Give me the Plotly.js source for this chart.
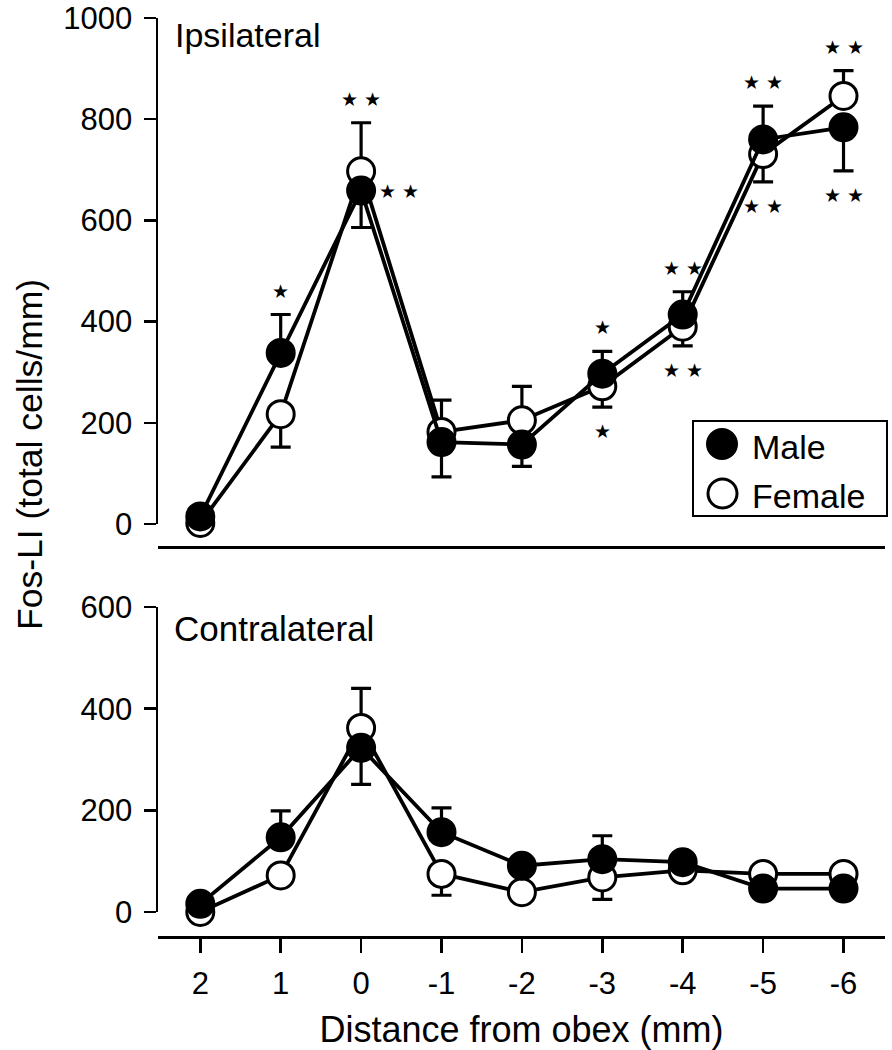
<!DOCTYPE html>
<html><head><meta charset="utf-8">
<script src="https://cdn.plot.ly/plotly-3.0.1.min.js"></script>
<style>html,body{margin:0;padding:0;background:#fff}</style>
</head><body><div id="chart" style="width:892px;height:1050px"></div>
<script>
// ---- data ----
const distance = [2, 1, 0, -1, -2, -3, -4, -5, -6];
const tickLabels = ['2', '1', '0', '-1', '-2', '-3', '-4', '-5', '-6'];

const ipsiMale          = [15, 338, 659, 162, 157, 297, 414, 760, 784];
const ipsiMaleErrUp     = [0, 76, 0, 0, 0, 44, 45, 66, 0];
const ipsiMaleErrDown   = [0, 0, 73, 69, 43, 0, 0, 0, 86];
const ipsiFemale        = [2, 217, 697, 182, 205, 272, 390, 731, 846];
const ipsiFemaleErrUp   = [0, 0, 96, 63, 67, 0, 0, 0, 50];
const ipsiFemaleErrDown = [0, 65, 0, 0, 0, 41, 38, 55, 0];

const contraMale          = [16, 147, 323, 157, 91, 104, 98, 46, 46];
const contraMaleErrUp     = [0, 52, 0, 48, 0, 46, 0, 0, 0];
const contraMaleErrDown   = [0, 0, 72, 0, 0, 0, 0, 0, 0];
const contraFemale        = [0, 72, 362, 75, 39, 68, 82, 75, 75];
const contraFemaleErrUp   = [0, 0, 78, 0, 0, 0, 0, 0, 0];
const contraFemaleErrDown = [0, 0, 0, 42, 0, 43, 0, 0, 0];

// significance marks (ipsilateral panel)
const ipsiMaleSig     = ['', '*', '**', '', '', '*', '**', '**', '**'];
const ipsiFemaleSig   = ['', '', '**', '', '', '*', '**', '**', '**'];
const ipsiMaleSigSide = ['', 'bar', 'right', '', '', 'bar', 'bar', 'bar', 'bar'];

// ---- styling ----
const FONT = '"Liberation Sans", Arial, Helvetica, sans-serif';
const STARFONT = '"DejaVu Sans", sans-serif';
const LW = 3.8;

function series(x, y, up, down, filled, xa, ya, name) {
  return {
    type: 'scatter', mode: 'lines+markers', name: name, showlegend: false,
    x: x, y: y, xaxis: xa, yaxis: ya, cliponaxis: false,
    line: {color: '#000', width: LW},
    marker: {size: 27, color: filled ? '#000' : '#fff', line: {color: '#000', width: 3}},
    error_y: {type: 'data', symmetric: false, array: up, arrayminus: down,
              color: '#000', thickness: 3.2, width: 10}
  };
}

const data = [
  series(distance, ipsiFemale, ipsiFemaleErrUp, ipsiFemaleErrDown, false, 'x2', 'y', 'Female'),
  series(distance, ipsiMale, ipsiMaleErrUp, ipsiMaleErrDown, true, 'x2', 'y', 'Male'),
  series(distance, contraFemale, contraFemaleErrUp, contraFemaleErrDown, false, 'x', 'y2', 'Female'),
  series(distance, contraMale, contraMaleErrUp, contraMaleErrDown, true, 'x', 'y2', 'Male')
];

// significance annotations
const annotations = [];
function starText(s) { return s.split('').map(() => '★').join(' '); }
const starFont = {family: STARFONT, size: 19, color: '#000'};
function addSig(sig, vals, up, down, side) {
  sig.forEach((s, i) => {
    if (!s) return;
    const where = side ? side[i] : 'bar';
    const a = {x: distance[i], xref: 'x2', yref: 'y', text: starText(s), showarrow: false,
               xanchor: 'center', yanchor: 'middle', font: starFont};
    if (where === 'right') {
      Object.assign(a, {y: vals[i], xshift: 38, yshift: 0});
    } else if (up[i] > 0) {
      Object.assign(a, {y: vals[i] + up[i], yshift: 24});
    } else {
      Object.assign(a, {y: vals[i] - down[i], yshift: -24});
    }
    annotations.push(a);
  });
}
addSig(ipsiMaleSig, ipsiMale, ipsiMaleErrUp, ipsiMaleErrDown, ipsiMaleSigSide);
addSig(ipsiFemaleSig, ipsiFemale, ipsiFemaleErrUp, ipsiFemaleErrDown, null);

// panel labels and shared y title
const W = 892, H = 1050, ML = 158, MR = 7, MT = 18, MB = 113;
const PW = W - ML - MR, PH = H - MT - MB;
const px = v => (v - ML) / PW;
const py = v => (H - MB - v) / PH;

annotations.push({xref: 'paper', yref: 'paper', x: px(173), y: py(35), xanchor: 'left', yanchor: 'middle',
  text: 'Ipsilateral', showarrow: false, font: {family: FONT, size: 34, color: '#000'}});
annotations.push({xref: 'paper', yref: 'paper', x: px(172), y: py(628), xanchor: 'left', yanchor: 'middle',
  text: 'Contralateral', showarrow: false, font: {family: FONT, size: 35, color: '#000'}});
annotations.push({xref: 'paper', yref: 'paper', x: px(30), y: py(455), xanchor: 'center', yanchor: 'middle',
  text: 'Fos-LI (total cells/mm)', textangle: -90, showarrow: false,
  font: {family: FONT, size: 35.5, color: '#000'}});

// legend (drawn as a boxed key)
annotations.push({xref: 'paper', yref: 'paper', x: px(750), y: py(447), xanchor: 'left', yanchor: 'middle',
  text: 'Male', showarrow: false, font: {family: FONT, size: 34, color: '#000'}});
annotations.push({xref: 'paper', yref: 'paper', x: px(750), y: py(496), xanchor: 'left', yanchor: 'middle',
  text: 'Female', showarrow: false, font: {family: FONT, size: 34, color: '#000'}});
const shapes = [
  {type: 'rect', xref: 'paper', yref: 'paper', x0: px(693), x1: px(887), y0: py(421), y1: py(516),
   line: {color: '#000', width: 2}, fillcolor: '#fff', layer: 'above'},
  {type: 'circle', xref: 'paper', yref: 'paper', x0: px(707), x1: px(737), y0: py(429), y1: py(459),
   line: {color: '#000', width: 2}, fillcolor: '#000', layer: 'above'},
  {type: 'circle', xref: 'paper', yref: 'paper', x0: px(708), x1: px(737), y0: py(479), y1: py(508),
   line: {color: '#000', width: 3}, fillcolor: '#fff', layer: 'above'}
];

const xRange = [2.526, -6.516];
const yAxisCommon = {
  showline: true, linecolor: '#000', linewidth: 2.5, ticks: 'outside', ticklen: 12, tickwidth: 2.5,
  tickcolor: '#000', showgrid: false, zeroline: false, ticklabelstandoff: 5,
  ticklabeloverflow: 'allow', tickmode: 'array',
  tickfont: {family: FONT, size: 31, color: '#000'}
};

const layout = {
  width: W, height: H, paper_bgcolor: '#fff', plot_bgcolor: 'rgba(0,0,0,0)',
  margin: {l: ML, r: MR, t: MT, b: MB},
  showlegend: false,
  font: {family: FONT, color: '#000'},
  xaxis: {
    domain: [0, 1], anchor: 'free', position: 0, range: xRange,
    tickmode: 'array', tickvals: distance, ticktext: tickLabels,
    showline: true, linecolor: '#000', linewidth: 3, ticks: 'outside', ticklen: 14, tickwidth: 2.5,
    tickcolor: '#000', showgrid: false, zeroline: false, ticklabelstandoff: 4,
    tickfont: {family: FONT, size: 31, color: '#000'},
    title: {text: 'Distance from obex (mm)', font: {family: FONT, size: 36, color: '#000'}, standoff: 18}
  },
  xaxis2: {
    domain: [0, 1], anchor: 'free', position: py(547), range: xRange,
    showline: true, linecolor: '#000', linewidth: 3, ticks: '', showticklabels: false,
    showgrid: false, zeroline: false
  },
  yaxis: Object.assign({}, yAxisCommon, {
    domain: [py(524), 1], range: [0, 1000], anchor: 'x2',
    tickvals: [0, 200, 400, 600, 800, 1000], ticktext: ['0', '200', '400', '600', '800', '1000']
  }),
  yaxis2: Object.assign({}, yAxisCommon, {
    domain: [py(912), py(607)], range: [0, 600], anchor: 'x',
    tickvals: [0, 200, 400, 600], ticktext: ['0', '200', '400', '600']
  }),
  annotations: annotations,
  shapes: shapes
};

Plotly.newPlot('chart', data, layout, {displayModeBar: false, staticPlot: true});
</script></body></html>
